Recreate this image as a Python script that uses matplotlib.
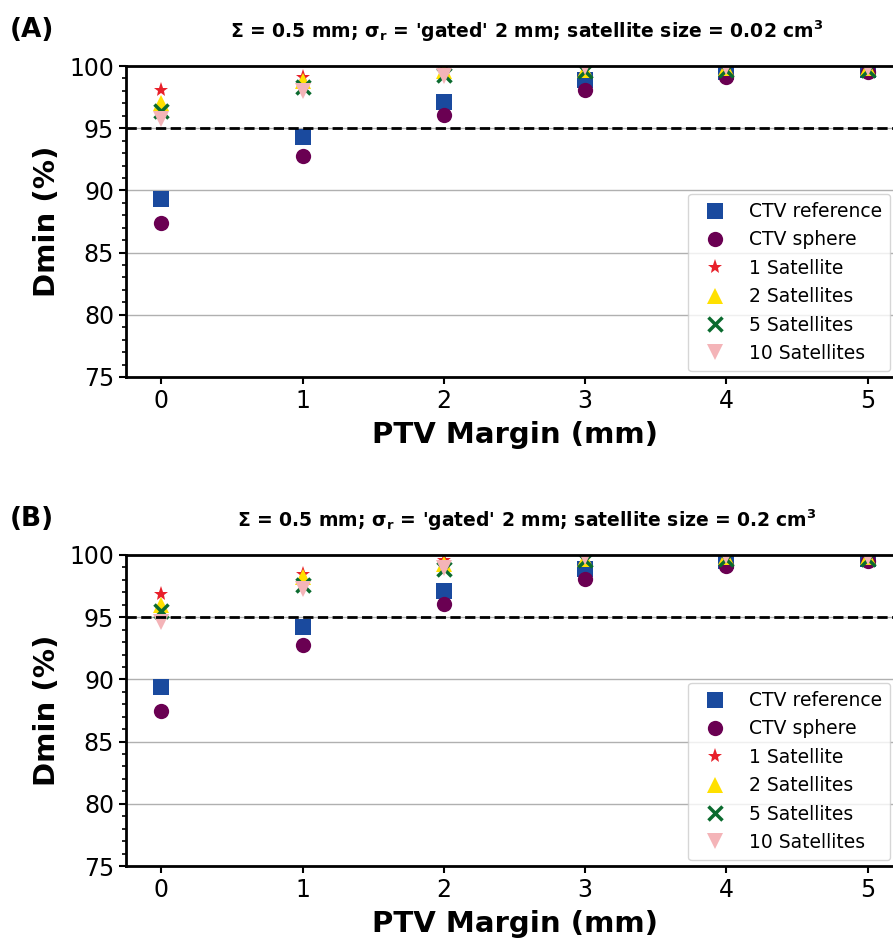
import numpy as np
import matplotlib
matplotlib.use("Agg")
from matplotlib import pyplot as plt
from matplotlib.ticker import MultipleLocator

margins = [0, 1, 2, 3, 4, 5]

# (A) satellite size 0.02 cm3
a_ctv_ref = [89.3, 94.3, 97.1, 98.9, 99.5, 99.7]
a_ctv_sphere = [87.4, 92.8, 96.05, 98.1, 99.1, 99.5]
a_sat1 = [98.05, 99.1, 99.9, 100.0, 99.9, 99.9]
a_sat2 = [97.05, 98.8, 99.6, 99.7, 99.8, 99.8]
a_sat5 = [96.4, 98.3, 99.3, 99.6, 99.7, 99.7]
a_sat10 = [95.7, 98.0, 99.2, 99.9, 99.9, 99.8]

# (B) satellite size 0.2 cm3
b_ctv_ref = [89.4, 94.2, 97.1, 98.9, 99.5, 99.7]
b_ctv_sphere = [87.45, 92.8, 96.05, 98.1, 99.1, 99.5]
b_sat1 = [96.9, 98.5, 99.6, 99.9, 99.9, 99.9]
b_sat2 = [96.0, 98.2, 99.3, 99.7, 99.8, 99.8]
b_sat5 = [95.5, 97.6, 98.9, 99.6, 99.7, 99.7]
b_sat10 = [94.6, 97.3, 98.95, 99.8, 99.9, 99.8]

labels = ["CTV reference", "CTV sphere", "1 Satellite", "2 Satellites",
          "5 Satellites", "10 Satellites"]
markers = ["s", "o", "*", "^", "x", "v"]
colors = ["#1a4a9e", "#6a0052", "#e8202a", "#ffe000", "#0b6b2f", "#f4b4b8"]
sizes = [11, 11, 11, 11, 10, 11]

panels = [
    ("(A)", r"$\mathbf{\Sigma}$ = 0.5 mm; $\mathbf{\sigma_r}$ = 'gated' 2 mm; satellite size = 0.02 cm$\mathbf{^3}$",
     [a_ctv_ref, a_ctv_sphere, a_sat1, a_sat2, a_sat5, a_sat10]),
    ("(B)", r"$\mathbf{\Sigma}$ = 0.5 mm; $\mathbf{\sigma_r}$ = 'gated' 2 mm; satellite size = 0.2 cm$\mathbf{^3}$",
     [b_ctv_ref, b_ctv_sphere, b_sat1, b_sat2, b_sat5, b_sat10]),
]

fig = plt.figure(figsize=(8.93, 9.41), dpi=100)
W, H = 893, 941
boxes = [(126, 66, 903, 377), (126, 555, 903, 866)]

for (tag, title, series), (x0, y0, x1, y1) in zip(panels, boxes):
    ax = fig.add_axes([x0 / W, 1 - y1 / H, (x1 - x0) / W, (y1 - y0) / H])
    for vals, lab, m, c, ms in zip(series, labels, markers, colors, sizes):
        if m == "x":
            ax.plot(margins, vals, linestyle="none", marker=m, color=c,
                    markersize=ms, markeredgewidth=2.5, label=lab)
        else:
            ax.plot(margins, vals, linestyle="none", marker=m, color=c,
                    markersize=ms, markeredgewidth=0, label=lab)
    ax.axhline(95, color="black", linestyle="--", linewidth=2)
    ax.set_ylim(75, 100)
    ax.set_xlim(-0.25, 5.25)
    ax.set_yticks([75, 80, 85, 90, 95, 100])
    ax.yaxis.set_minor_locator(MultipleLocator(1))
    ax.grid(axis="y", color="#b0b0b0", linewidth=1)
    ax.set_axisbelow(True)
    for s in ax.spines.values():
        s.set_linewidth(2)
    ax.tick_params(axis="both", which="major", labelsize=17, width=1.5, length=5)
    ax.tick_params(axis="y", which="minor", width=1.2, length=3)
    ax.set_ylabel("Dmin (%)", fontsize=21, fontweight="bold", labelpad=6)
    ax.set_xlabel("PTV Margin (mm)", fontsize=21, fontweight="bold", labelpad=6)
    ax.legend(loc="lower right", fontsize=13.5, handletextpad=0.8,
              borderpad=0.45, labelspacing=0.5, borderaxespad=0.3)
    leg = ax.get_legend()
    leg.set_bbox_to_anchor(((W + 3 - x0) / (x1 - x0), 0.0), transform=ax.transAxes)
    fig.text(527 / W, 1 - (y0 - 35) / H, title, ha="center", va="center",
             fontsize=13.5, fontweight="bold")
    fig.text(10 / W, 1 - (y0 - 36) / H, tag, ha="left", va="center",
             fontsize=19, fontweight="bold")

fig.savefig("out.png", dpi=100)
